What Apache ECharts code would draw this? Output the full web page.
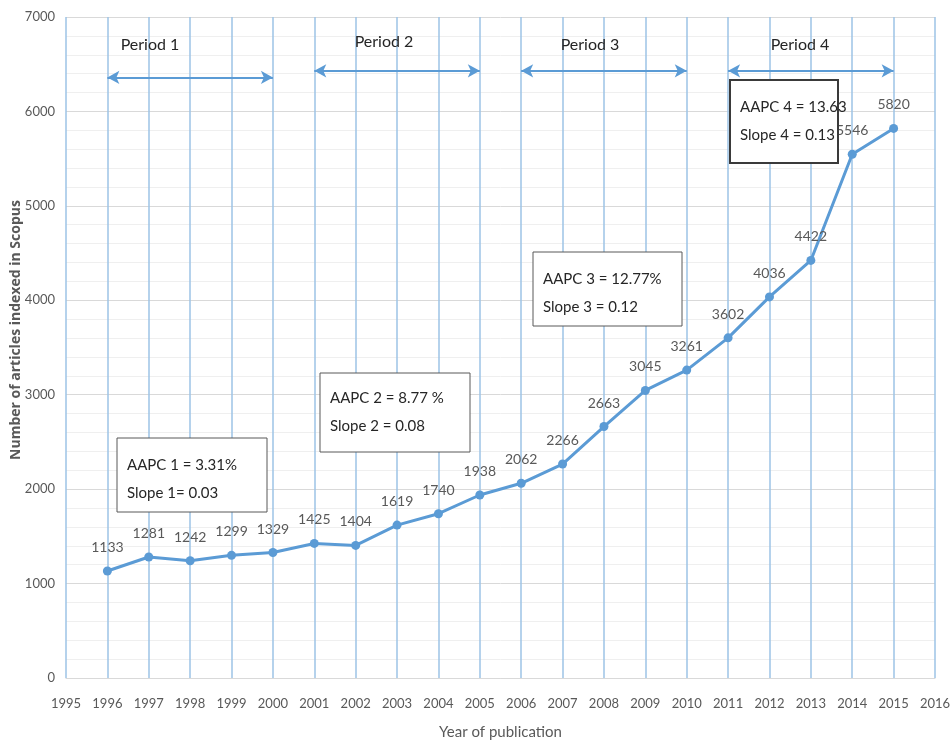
<!DOCTYPE html>
<html>
<head>
<meta charset="utf-8">
<script src="https://cdn.jsdelivr.net/npm/echarts@6/dist/echarts.min.js"></script>
<style>
  html, body { margin: 0; padding: 0; background: #fff; }
  #chart { width: 950px; height: 745px; }
</style>
</head>
<body>
<div id="chart"></div>
<script>
const years = [1996, 1997, 1998, 1999, 2000, 2001, 2002, 2003, 2004, 2005,
  2006, 2007, 2008, 2009, 2010, 2011, 2012, 2013, 2014, 2015]
const articles = [1133, 1281, 1242, 1299, 1329, 1425, 1404, 1619, 1740, 1938,
  2062, 2266, 2663, 3045, 3261, 3602, 4036, 4422, 5546, 5820]

// period arrows: [start year, end year, height on y axis]
const periods = [
  [1996, 2000, 6360],
  [2001, 2005, 6430],
  [2006, 2010, 6430],
  [2011, 2015, 6430]
]
const periodNames = ['Period 1', 'Period 2', 'Period 3', 'Period 4']
const aapcLines = [
  ['AAPC 1 = 3.31%', 'Slope 1= 0.03'],
  ['AAPC 2 = 8.77 %', 'Slope 2 = 0.08'],
  ['AAPC 3 = 12.77%', 'Slope 3 = 0.12'],
  ['AAPC 4 = 13.63', 'Slope 4 = 0.13']
]
const yTitle = 'Number of articles indexed in Scopus'

const font = "'Liberation Sans Narrow', Lato, sans-serif"
const blue = '#5b9bd5'

// pixel boxes for the AAPC notes
const boxes = [
  { x: 117, y: 438, w: 150, h: 74, lw: 1 },
  { x: 320, y: 373, w: 150, h: 79, lw: 1 },
  { x: 533, y: 252, w: 149, h: 74, lw: 1 },
  { x: 730, y: 80, w: 108, h: 83, lw: 2 }
]
const periodLabelPos = [[150, 45], [384, 42], [590, 45], [800, 45]]

const graphic = []
boxes.forEach((b, i) => {
  graphic.push({
    type: 'rect',
    z: 100,
    shape: { x: b.x, y: b.y, width: b.w, height: b.h },
    style: { fill: '#fff', stroke: i === 3 ? '#3a3a3a' : '#595959', lineWidth: b.lw }
  })
  graphic.push({
    type: 'text',
    z: 101,
    x: b.x + 10,
    y: b.y + (i === 1 ? 11 : 13),
    style: {
      text: aapcLines[i].join('\n'),
      font: '15px ' + font,
      fill: '#262626',
      lineHeight: 28
    }
  })
})
periodLabelPos.forEach((p, i) => {
  graphic.push({
    type: 'text',
    z: 101,
    x: p[0],
    y: p[1],
    style: {
      text: periodNames[i],
      font: '16px ' + font,
      fill: '#262626',
      textAlign: 'center',
      textVerticalAlign: 'middle'
    }
  })
})
// y axis title, drawn by hand so it sits where the reference has it
graphic.push({
  type: 'text',
  x: 16,
  y: 330,
  rotation: Math.PI / 2,
  style: {
    text: yTitle,
    font: 'bold 14px Open Sans, sans-serif',
    fill: '#595959',
    textAlign: 'center',
    textVerticalAlign: 'middle'
  }
})

const chart = echarts.init(document.getElementById('chart'))
chart.setOption({
  animation: false,
  grid: { left: 66, right: 15, top: 17, bottom: 67, containLabel: false, outerBoundsMode: 'none' },
  xAxis: {
    type: 'value',
    min: 1995,
    max: 2016,
    interval: 1,
    name: 'Year of publication',
    nameLocation: 'middle',
    nameGap: 47,
    nameTextStyle: { color: '#595959', fontSize: 15, fontFamily: font },
    axisLine: { lineStyle: { color: '#d9d9d9' } },
    axisTick: { show: false },
    axisLabel: {
      color: '#595959', fontSize: 13, fontFamily: font, margin: 19,
      formatter: v => String(v)
    },
    splitLine: {
      show: true,
      lineStyle: { color: '#9dc3e6', width: 1.5 }
    }
  },
  yAxis: {
    type: 'value',
    min: 0,
    max: 7000,
    interval: 1000,
    axisLine: { show: false },
    axisTick: { show: false },
    axisLabel: { color: '#595959', fontSize: 13, fontFamily: font, margin: 11, formatter: v => String(v) },
    splitLine: { lineStyle: { color: '#d9d9d9' } },
    minorTick: { show: false, splitNumber: 5 },
    minorSplitLine: { show: true, lineStyle: { color: '#efefef' } }
  },
  series: [{
    type: 'line',
    data: years.map((y, i) => [y, articles[i]]),
    symbol: 'circle',
    symbolSize: 9,
    lineStyle: { color: blue, width: 3 },
    itemStyle: { color: blue },
    label: {
      show: true,
      position: 'top',
      distance: 12,
      color: '#595959',
      fontSize: 14,
      fontFamily: font,
      formatter: p => p.value[1]
    },
    markLine: {
      silent: true,
      symbol: ['arrow', 'arrow'],
      symbolSize: [10, 12],
      label: { show: false },
      lineStyle: { color: blue, width: 2, type: 'solid' },
      data: periods.map(p => [{ coord: [p[0], p[2]] }, { coord: [p[1], p[2]] }])
    }
  }],
  graphic: graphic
})
</script>
</body>
</html>
